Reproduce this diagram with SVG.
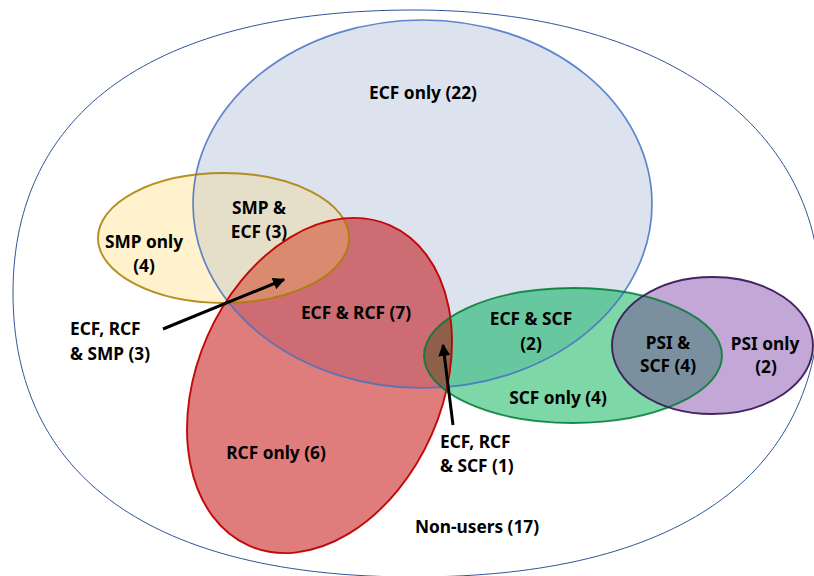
<svg xmlns="http://www.w3.org/2000/svg" width="814" height="576" viewBox="0 0 814 576">
<style>
text{font-family:"Noto Sans","Open Sans","DejaVu Sans",sans-serif;font-weight:bold;font-size:17.3px;fill:#000}
.c{text-anchor:middle}
.ol{fill:none;stroke-opacity:0.85}
.arrow{stroke:#000;stroke-width:3;fill:none;marker-end:url(#ah)}
</style>
<defs>
<marker id="ah" viewBox="0 0 10 10" refX="9" refY="5" markerWidth="4.2" markerHeight="4" orient="auto" markerUnits="strokeWidth">
<path d="M0,0 L10,5 L0,10 z" fill="#000"/>
</marker>
<clipPath id="cB"><ellipse cx="422.5" cy="204" rx="229.5" ry="184"/></clipPath>
<clipPath id="cY"><ellipse cx="223.5" cy="238" rx="125.5" ry="65"/></clipPath>
<clipPath id="cR"><ellipse cx="319.5" cy="385.5" rx="122.5" ry="175" transform="rotate(23.8 319.5 385.5)"/></clipPath>
<clipPath id="cG"><ellipse cx="573" cy="355.5" rx="149" ry="67.5"/></clipPath>
</defs>

<g id="non-users">
<path d="M820,293 C820,476.7 676.7,577 414,577 C153.4,577 13,477.6 13,293 C13,110.5 155.4,10 414,10 C657.6,10 820,123.2 820,293 Z" fill="none" stroke="#2F5597" stroke-width="1"/>
<text x="477" y="533" class="c">Non-users (17)</text>
</g>

<g id="ecf">
<ellipse cx="422.5" cy="204" rx="229.5" ry="184" fill="#DCE3EE"/>
</g>
<g id="smp">
<ellipse cx="223.5" cy="238" rx="125.5" ry="65" fill="#FFF2CC"/>
</g>
<g id="rcf">
<ellipse cx="319.5" cy="385.5" rx="122.5" ry="175" transform="rotate(23.8 319.5 385.5)" fill="#DF7C7C"/>
</g>
<g id="scf">
<ellipse cx="573" cy="355.5" rx="149" ry="67.5" fill="#7ED7A6"/>
</g>
<g id="psi">
<ellipse cx="712.5" cy="345.5" rx="100.5" ry="68.5" fill="#C3A7D7"/>
</g>

<g id="overlaps">
<g clip-path="url(#cB)"><ellipse cx="223.5" cy="238" rx="125.5" ry="65" fill="#E5DEC8"/></g>
<g clip-path="url(#cB)"><ellipse cx="319.5" cy="385.5" rx="122.5" ry="175" transform="rotate(23.8 319.5 385.5)" fill="#CD6C73"/></g>
<g clip-path="url(#cY)"><ellipse cx="319.5" cy="385.5" rx="122.5" ry="175" transform="rotate(23.8 319.5 385.5)" fill="#DA8B6F"/></g>
<g clip-path="url(#cB)"><ellipse cx="573" cy="355.5" rx="149" ry="67.5" fill="#67C8A0"/></g>
<g clip-path="url(#cR)"><ellipse cx="573" cy="355.5" rx="149" ry="67.5" fill="#8E5F4B"/></g>
<g clip-path="url(#cG)"><ellipse cx="712.5" cy="345.5" rx="100.5" ry="68.5" fill="#7A909F"/></g>
</g>

<g id="outlines">
<ellipse class="ol" cx="422.5" cy="204" rx="229.5" ry="184" stroke="#4472C4" stroke-width="1.7"/>
<ellipse class="ol" cx="223.5" cy="238" rx="125.5" ry="65" stroke="#A87E00" stroke-width="1.9"/>
<ellipse class="ol" cx="319.5" cy="385.5" rx="122.5" ry="175" transform="rotate(23.8 319.5 385.5)" stroke="#C00000" stroke-width="1.9" style="stroke-opacity:0.95"/>
<ellipse class="ol" cx="573" cy="355.5" rx="149" ry="67.5" stroke="#007A33" stroke-width="1.9"/>
<ellipse class="ol" cx="712.5" cy="345.5" rx="100.5" ry="68.5" stroke="#3C1A5B" stroke-width="1.9" style="stroke-opacity:0.95"/>
</g>

<g id="labels">
<text x="423" y="99" class="c">ECF only (22)</text>
<text x="144" y="248" class="c">SMP only</text>
<text x="144" y="272" class="c">(4)</text>
<text x="259" y="214" class="c">SMP &amp;</text>
<text x="259" y="238" class="c">ECF (3)</text>
<text x="356" y="319" class="c">ECF &amp; RCF (7)</text>
<text x="70" y="335">ECF, RCF</text>
<text x="70" y="360">&amp; SMP (3)</text>
<text x="276" y="459" class="c">RCF only (6)</text>
<text x="531" y="325" class="c">ECF &amp; SCF</text>
<text x="531" y="350" class="c">(2)</text>
<text x="558" y="404" class="c">SCF only (4)</text>
<text x="668" y="349" class="c">PSI &amp;</text>
<text x="668" y="372" class="c">SCF (4)</text>
<text x="765" y="350" class="c">PSI only</text>
<text x="766" y="373" class="c">(2)</text>
<text x="440" y="448">ECF, RCF</text>
<text x="440" y="472">&amp; SCF (1)</text>
</g>

<g id="connectors">
<line class="arrow" x1="163" y1="329" x2="284" y2="279.5"/>
<line class="arrow" x1="453" y1="425" x2="443" y2="345"/>
</g>
</svg>
